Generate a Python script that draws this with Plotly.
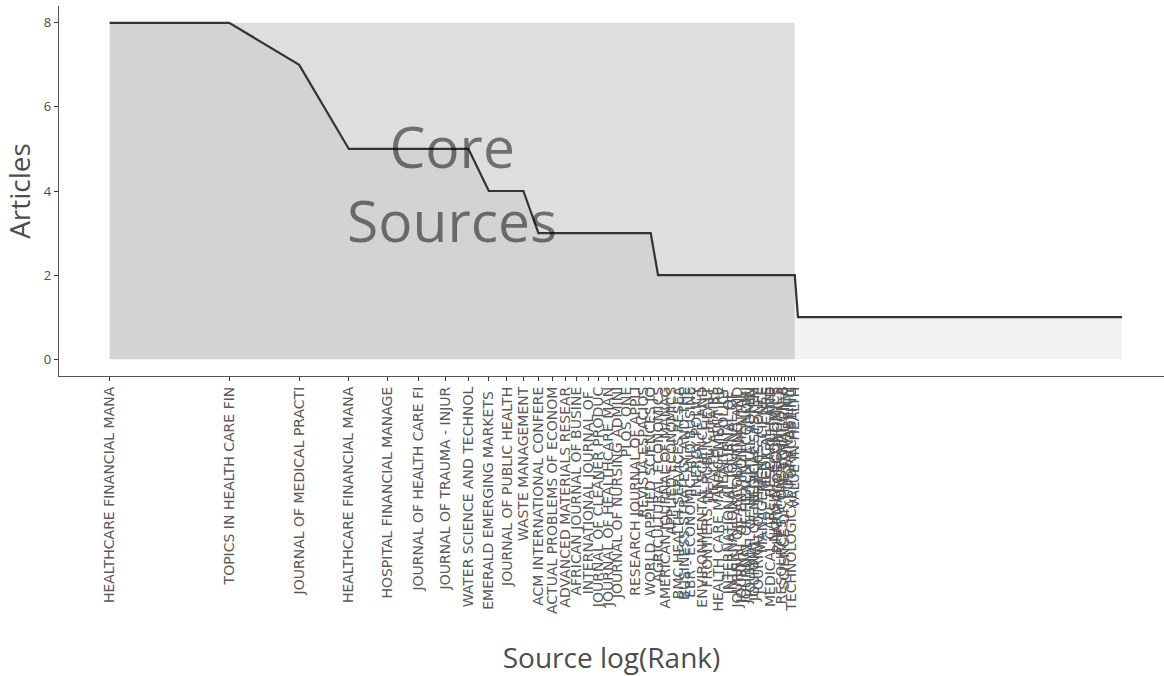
import numpy as np
import plotly.graph_objects as go

# Article counts per source, grouped by level (sources sorted by productivity)
article_levels = [8, 7, 5, 4, 3, 2, 1]
sources_per_level = [2, 1, 5, 3, 12, 30, 300]

# Names of the core sources (ranks 1..53)
core_sources = [
    "HEALTHCARE FINANCIAL MANAGEMENT",
    "TOPICS IN HEALTH CARE FINANCING",
    "JOURNAL OF MEDICAL PRACTICE MANAGEMENT",
    "HEALTHCARE FINANCIAL MANAGEMENT ASSOCIATION",
    "HOSPITAL FINANCIAL MANAGEMENT",
    "JOURNAL OF HEALTH CARE FINANCE",
    "JOURNAL OF TRAUMA - INJURY INFECTION AND CRITICAL CARE",
    "WATER SCIENCE AND TECHNOLOGY",
    "EMERALD EMERGING MARKETS CASE STUDIES",
    "JOURNAL OF PUBLIC HEALTH",
    "WASTE MANAGEMENT",
    "ACM INTERNATIONAL CONFERENCE PROCEEDING SERIES",
    "ACTUAL PROBLEMS OF ECONOMICS",
    "ADVANCED MATERIALS RESEARCH",
    "AFRICAN JOURNAL OF BUSINESS MANAGEMENT",
    "INTERNATIONAL JOURNAL OF HEALTH PLANNING AND MANAGEMENT",
    "JOURNAL OF CLEANER PRODUCTION",
    "JOURNAL OF HEALTHCARE MANAGEMENT",
    "JOURNAL OF NURSING ADMINISTRATION",
    "PLOS ONE",
    "RESEARCH JOURNAL OF APPLIED SCIENCES",
    "REVISTA ESPACIOS",
    "WORLD APPLIED SCIENCES JOURNAL",
    "AGRICULTURAL ECONOMICS",
    "AMERICAN JOURNAL OF MANAGED CARE",
    "APPLIED ECONOMICS",
    "BMC HEALTH SERVICES RESEARCH",
    "BUSINESS STRATEGY AND THE ENVIRONMENT",
    "EBR - ECONOMIC AND BUSINESS REVIEW",
    "ENERGY POLICY",
    "ENVIRONMENTAL SCIENCE AND POLLUTION RESEARCH",
    "FRONTIERS IN PUBLIC HEALTH",
    "HEALTH AFFAIRS",
    "HEALTH CARE MANAGEMENT REVIEW",
    "HEALTH POLICY",
    "INTERNATIONAL JOURNAL OF ENVIRONMENTAL RESEARCH",
    "INTERNATIONAL JOURNAL OF PRODUCTION ECONOMICS",
    "JOURNAL OF ACCOUNTING AND PUBLIC POLICY",
    "JOURNAL OF ENVIRONMENTAL MANAGEMENT",
    "JOURNAL OF HEALTH ECONOMICS",
    "JOURNAL OF HOSPITAL ADMINISTRATION",
    "JOURNAL OF MEDICAL SYSTEMS",
    "JOURNAL OF PHYSICS: CONFERENCE SERIES",
    "MANAGEMENT SCIENCE",
    "MEDICAL CARE",
    "MEDICAL CARE RESEARCH AND REVIEW",
    "NURSING ECONOMICS",
    "PHARMACOECONOMICS",
    "RESOURCES, CONSERVATION AND RECYCLING",
    "SCIENCE OF THE TOTAL ENVIRONMENT",
    "SUSTAINABILITY",
    "TECHNOLOGICAL FORECASTING AND SOCIAL CHANGE",
    "VALUE IN HEALTH",
]

freq = np.repeat(article_levels, sources_per_level)
rank = np.arange(1, len(freq) + 1)
log_rank = np.log(rank)

# Core zone: the named core sources
n_core = len(core_sources)
core_edge = log_rank[n_core - 1]
fmax = freq.max()

grey = "#4d4d4d"
fig = go.Figure()

# Shaded area under the curve
fig.add_trace(go.Scatter(
    x=log_rank, y=freq, mode="lines", line=dict(width=0),
    fill="tozeroy", fillcolor="rgba(229,229,229,0.5)",
    hoverinfo="skip", showlegend=False))

# Core sources rectangle
fig.add_trace(go.Scatter(
    x=[0, core_edge, core_edge, 0, 0], y=[0, 0, fmax, fmax, 0],
    mode="lines", line=dict(width=0), fill="toself",
    fillcolor="rgba(89,89,89,0.2)", hoverinfo="skip", showlegend=False))

# Frequency curve
fig.add_trace(go.Scatter(
    x=log_rank, y=freq, mode="lines",
    line=dict(color="#333333", width=2.2),
    text=[f"Source: {s}" for s in core_sources] + [""] * (len(freq) - n_core),
    showlegend=False))

fig.add_annotation(
    x=core_edge / 2, y=fmax / 2, text="Core<br>Sources", showarrow=False,
    font=dict(size=57, color="rgba(0,0,0,0.5)"), xref="x", yref="y", yshift=8)

span = log_rank[-1]
fig.update_layout(
    width=1164, height=676,
    margin=dict(l=59, r=0, t=6, b=300),
    paper_bgcolor="white", plot_bgcolor="white",
    font=dict(family='"Open Sans", verdana, arial, sans-serif', color=grey),
    xaxis=dict(
        range=[-0.05 * span, 6.11],
        tickmode="array",
        tickvals=log_rank[:n_core],
        ticktext=[s[:25] for s in core_sources[:n_core]],
        tickangle=-90,
        tickfont=dict(size=14, color="#5a5a5a", family="DejaVu Sans"),
        ticks="outside", ticklen=4, tickcolor="#333333",
        showline=True, linecolor="#555555", linewidth=1.2,
        showgrid=False, zeroline=False,
        title=dict(text="Source log(Rank)", font=dict(size=28, color=grey), standoff=37),
    ),
    yaxis=dict(
        range=[-0.4, 8.4],
        tickvals=[0, 2, 4, 6, 8],
        tickfont=dict(size=13, color=grey),
        ticks="outside", ticklen=4, tickcolor="#333333",
        showline=True, linecolor="#555555", linewidth=1.2,
        showgrid=False, zeroline=False,
        title=dict(text="Articles", font=dict(size=28, color=grey), standoff=8),
    ),
)

fig.write_html("out.html")
